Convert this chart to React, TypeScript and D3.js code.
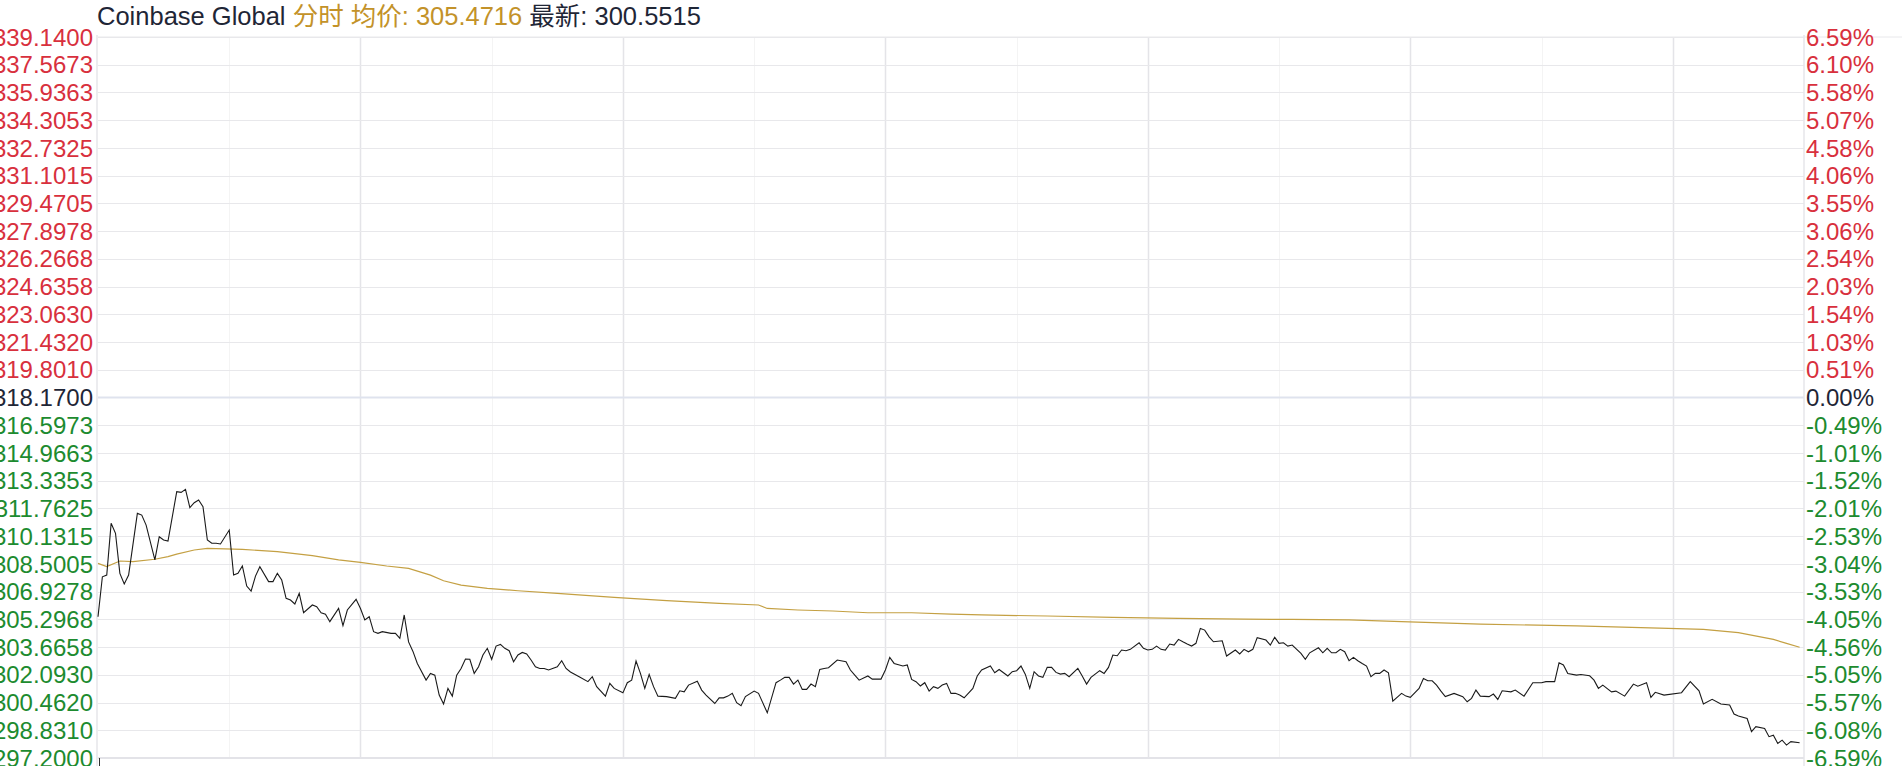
import React from "react";
import * as d3 from "d3";

const W = 1902;
const H = 766;

const leftTicks = [
  "339.1400", "337.5673", "335.9363", "334.3053", "332.7325", "331.1015", "329.4705",
  "327.8978", "326.2668", "324.6358", "323.0630", "321.4320", "319.8010", "318.1700",
  "316.5973", "314.9663", "313.3353", "311.7625", "310.1315", "308.5005", "306.9278",
  "305.2968", "303.6658", "302.0930", "300.4620", "298.8310", "297.2000",
];
const rightTicks = [
  "6.59%", "6.10%", "5.58%", "5.07%", "4.58%", "4.06%", "3.55%", "3.06%", "2.54%",
  "2.03%", "1.54%", "1.03%", "0.51%", "0.00%", "-0.49%", "-1.01%", "-1.52%", "-2.01%",
  "-2.53%", "-3.04%", "-3.53%", "-4.05%", "-4.56%", "-5.05%", "-5.57%", "-6.08%", "-6.59%",
];

const titleName = "Coinbase Global";
const titleMode = "分时";
const avgLabel = "均价: 305.4716";
const lastLabel = "最新: 300.5515";

// minute index since open (0..389)
const priceMinutes = [
  0, 1, 2, 3, 4, 5, 6, 7, 9, 10, 11, 13, 14, 15, 16, 18, 19, 20, 21, 22, 23, 24, 25, 26, 27, 28, 30,
  31, 32, 33, 34, 35, 36, 37, 39, 40, 41, 42, 43, 44, 45, 46, 47, 49, 50, 51, 52, 53, 55, 56, 57, 59,
  60, 61, 62, 63, 64, 65, 67, 68, 69, 70, 71, 72, 73, 75, 76, 77, 78, 79, 80, 81, 82, 83, 84, 85, 86,
  87, 88, 89, 90, 91, 92, 93, 94, 95, 96, 97, 98, 99, 100, 101, 102, 103, 105, 106, 107, 108, 110,
  112, 113, 114, 116, 117, 118, 120, 121, 122, 123, 124, 125, 126, 127, 128, 130, 132, 133, 134, 135,
  137, 138, 139, 141, 142, 143, 144, 145, 146, 147, 148, 150, 151, 153, 155, 156, 157, 158, 159, 160,
  161, 162, 163, 164, 165, 166, 167, 169, 171, 172, 173, 174, 176, 177, 179, 180, 181, 182, 184, 185,
  186, 187, 188, 189, 190, 191, 192, 193, 194, 195, 196, 197, 198, 200, 201, 202, 204, 205, 206, 208,
  209, 210, 211, 212, 213, 214, 215, 216, 217, 218, 219, 220, 221, 222, 224, 225, 226, 227, 229, 230,
  231, 232, 233, 234, 235, 236, 238, 239, 240, 241, 242, 243, 244, 245, 246, 247, 248, 249, 250, 251,
  252, 253, 254, 255, 257, 258, 260, 261, 262, 263, 264, 265, 267, 268, 269, 270, 271, 272, 273, 275,
  276, 277, 279, 280, 281, 282, 283, 284, 285, 286, 287, 288, 289, 290, 291, 292, 293, 294, 295, 296,
  298, 299, 300, 302, 303, 304, 305, 306, 307, 308, 310, 312, 313, 314, 315, 316, 318, 319, 320, 321,
  323, 324, 326, 328, 330, 331, 333, 334, 335, 336, 338, 339, 341, 342, 343, 344, 346, 347, 349, 351,
  352, 354, 355, 356, 358, 362, 364, 366, 367, 369, 371, 373, 374, 375, 377, 378, 379, 381, 382, 383,
  384, 385, 386, 387, 389,
];
const priceValues = [
  305.42, 307.74, 307.84, 310.85, 310.27, 307.94, 307.32, 307.84, 311.43, 311.33, 310.75, 308.72,
  310.07, 309.88, 309.82, 312.69, 312.65, 312.83, 311.76, 312.05, 312.21, 311.82, 309.88, 309.69,
  309.69, 309.65, 310.46, 307.84, 307.94, 308.37, 307.2, 306.91, 307.78, 308.33, 307.46, 307.46,
  307.94, 307.55, 306.49, 306.39, 306.16, 306.78, 305.65, 306.1, 306.0, 305.65, 305.57, 305.13,
  305.9, 304.9, 305.81, 306.43, 305.9, 305.23, 305.42, 304.55, 304.45, 304.55, 304.45, 304.45,
  304.16, 305.52, 303.95, 303.4, 302.7, 301.73, 302.12, 302.02, 300.86, 300.34, 301.25, 300.8,
  302.02, 302.41, 302.96, 302.94, 302.12, 302.51, 303.19, 303.58, 302.94, 303.71, 303.81, 303.58,
  303.44, 302.8, 303.19, 303.34, 303.25, 302.9, 302.51, 302.41, 302.41, 302.32, 302.51, 302.86,
  302.41, 302.2, 301.93, 301.64, 301.93, 301.35, 300.8, 301.54, 301.25, 300.99, 301.58, 301.73,
  302.84, 302.12, 301.25, 302.06, 301.35, 300.8, 300.77, 300.67, 301.11, 301.05, 301.44, 301.67,
  301.15, 300.86, 300.37, 300.7, 300.7, 300.8, 300.96, 300.42, 300.24, 300.77, 301.09, 300.96,
  299.83, 301.58, 301.73, 301.89, 301.89, 301.5, 301.73, 301.19, 301.19, 301.5, 301.35, 302.35,
  302.41, 302.45, 302.9, 302.8, 302.32, 302.02, 301.73, 301.97, 301.79, 301.79, 302.32, 303.05,
  302.7, 302.55, 302.61, 301.77, 301.64, 301.39, 301.58, 301.09, 301.35, 301.25, 301.44, 301.54,
  300.96, 300.96, 300.86, 300.7, 301.25, 301.97, 302.32, 302.55, 302.16, 302.35, 301.97, 302.22,
  302.28, 302.55, 302.06, 301.25, 302.22, 301.97, 301.89, 302.47, 302.47, 302.18, 302.08, 302.12,
  301.93, 302.41, 301.97, 301.5, 301.89, 302.28, 302.12, 302.47, 303.19, 303.15, 303.48, 303.44,
  303.52, 303.9, 303.58, 303.48, 303.52, 303.71, 303.52, 303.48, 303.83, 303.77, 304.1, 303.96,
  303.83, 303.71, 303.87, 304.74, 304.64, 304.25, 303.96, 304.02, 303.13, 303.48, 303.25, 303.52,
  303.38, 303.52, 304.2, 304.06, 303.77, 304.22, 303.87, 303.9, 303.71, 303.77, 303.29, 302.94,
  303.32, 303.61, 303.32, 303.58, 303.32, 303.32, 303.52, 303.38, 302.86, 303.05, 302.86, 302.7,
  302.55, 301.93, 302.12, 302.12, 302.32, 302.16, 300.51, 300.96, 300.8, 300.73, 301.25, 301.83,
  301.69, 301.69, 301.44, 301.09, 300.77, 300.96, 300.77, 300.47, 300.67, 301.15, 300.8, 300.77,
  300.92, 300.61, 301.11, 301.05, 301.15, 300.8, 301.58, 301.58, 301.64, 301.64, 302.74, 302.61,
  302.12, 302.02, 302.06, 301.98, 301.73, 301.25, 301.44, 301.05, 301.09, 300.8, 301.5, 301.38,
  301.58, 300.73, 301.02, 300.86, 301.0, 301.64, 301.11, 300.34, 300.61, 300.34, 300.28, 299.76,
  299.64, 299.5, 298.73, 299.02, 298.92, 298.44, 298.53, 298.05, 298.24, 297.95, 298.15, 298.09,
  297.99,
];

const avgMinutes = [
  0, 2, 5, 8, 13, 16, 18, 22, 25, 33, 41, 49, 55, 60, 66, 71, 76, 79, 83, 89, 96, 105, 118, 130,
  142, 151, 153, 160, 168, 176, 186, 195, 202, 217, 232, 247, 262, 273, 286, 298, 316, 338, 359,
  367, 375, 383, 386, 389,
];
const avgValues = [
  308.52, 308.33, 308.66, 308.62, 308.76, 308.91, 309.06, 309.3, 309.39, 309.34, 309.2, 308.97,
  308.72, 308.58, 308.37, 308.23, 307.84, 307.51, 307.26, 307.07, 306.93, 306.78, 306.54, 306.35,
  306.19, 306.1, 305.9, 305.81, 305.75, 305.65, 305.65, 305.57, 305.52, 305.46, 305.38, 305.32,
  305.28, 305.26, 305.24, 305.13, 304.99, 304.88, 304.74, 304.68, 304.49, 304.1, 303.87, 303.64,
];

const sessionMinutes = 390;
const gridMinutes = [30, 60, 90, 120, 150, 180, 210, 240, 270, 300, 330, 360];

const RED = "#d8303d";
const GREEN = "#1d8b2f";
const DARK = "#1f2636";
const GOLD = "#c39229";
const FONT = "'Liberation Sans', Arial, 'Noto Sans CJK SC', sans-serif";

export default function App() {
  const left = 98;
  const right = 1804;
  const top = 37;
  const bottom = 758;

  const x = d3.scaleLinear().domain([0, sessionMinutes]).range([left, right]);
  const y = d3
    .scaleLinear()
    .domain([+leftTicks[leftTicks.length - 1], +leftTicks[0]])
    .range([bottom, top]);
  const tickY = d3.scalePoint<number>().domain(d3.range(leftTicks.length)).range([top, bottom]);

  const line = d3
    .line<[number, number]>()
    .x((d) => x(d[0]))
    .y((d) => y(d[1]));

  const pricePts = priceMinutes.map((m, i) => [m, priceValues[i]] as [number, number]);
  const avgPts = avgMinutes.map((m, i) => [m, avgValues[i]] as [number, number]);
  const mid = Math.floor(leftTicks.length / 2);

  const colorFor = (i: number) => (i < mid ? RED : i === mid ? DARK : GREEN);

  return (
    <svg
      width={W}
      height={H}
      style={{ position: "absolute", left: 0, top: 0, background: "#fff" }}
      fontFamily={FONT}
    >
      <rect x={0} y={0} width={W} height={H} fill="#fff" />
      {/* vertical grid */}
      {gridMinutes.map((m) => (
        <line
          key={"v" + m}
          x1={Math.round(x(m)) + 0.5}
          x2={Math.round(x(m)) + 0.5}
          y1={top}
          y2={bottom}
          stroke={m % 60 === 0 ? "#e4e4e8" : "#f4f4f4"}
          strokeWidth={m % 60 === 0 ? 1.5 : 1}
        />
      ))}
      {/* horizontal grid */}
      {leftTicks.map((t, i) =>
        i === mid ? null : (
          <line
            key={"h" + i}
            x1={left}
            x2={right}
            y1={Math.round(tickY(i)!) + 0.5}
            y2={Math.round(tickY(i)!) + 0.5}
            stroke="#e8e8eb"
            strokeWidth={1}
          />
        )
      )}
      <line x1={left} x2={right} y1={tickY(mid)!} y2={tickY(mid)!} stroke="#dfe3ee" strokeWidth={2} />
      <line x1={left} x2={right} y1={bottom} y2={bottom} stroke="#e3e3e8" strokeWidth={2} />
      <line x1={left - 1} x2={left - 1} y1={top - 2} y2={H} stroke="#e6e6ea" strokeWidth={1.5} />
      <line x1={right} x2={right} y1={top - 2} y2={H} stroke="#e6e6ea" strokeWidth={1.5} />
      <line x1={left} x2={W} y1={top} y2={top} stroke="#e8e8eb" strokeWidth={1} />
      <line x1={x(0) + 1.5} x2={x(0) + 1.5} y1={bottom} y2={H} stroke="#333" strokeWidth={1} />

      {/* average line */}
      <path d={line(avgPts) || ""} fill="none" stroke="#c4a043" strokeWidth={1.2} />
      {/* price line */}
      <path d={line(pricePts) || ""} fill="none" stroke="#1a1a1a" strokeWidth={1.1} />

      {/* left labels */}
      {leftTicks.map((t, i) => (
        <text
          key={"l" + i}
          x={93}
          y={tickY(i)!}
          dy="0.36em"
          textAnchor="end"
          fontSize={24}
          fill={colorFor(i)}
        >
          {t}
        </text>
      ))}
      {/* right labels */}
      {rightTicks.map((t, i) => (
        <text
          key={"r" + i}
          x={1806}
          y={tickY(i)!}
          dy="0.36em"
          textAnchor="start"
          fontSize={24}
          fill={colorFor(i)}
        >
          {t}
        </text>
      ))}

      {/* title */}
      <text x={97} y={25} fontSize={25.5} style={{ whiteSpace: "pre" }}>
        <tspan fill={DARK}>{titleName + " "}</tspan>
        <tspan fill={GOLD}>{titleMode + " " + avgLabel + " "}</tspan>
        <tspan fill={DARK}>{lastLabel}</tspan>
      </text>
    </svg>
  );
}
